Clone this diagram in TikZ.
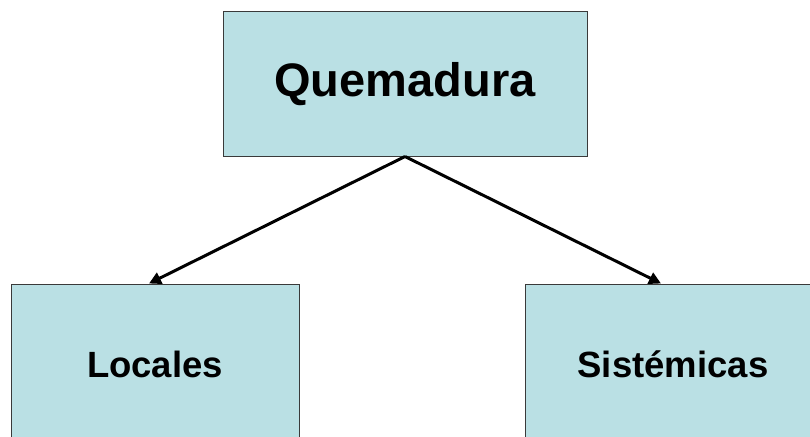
\documentclass[tikz,border=0pt]{standalone}
\usepackage{fontspec}
\setmainfont{Liberation Sans}
\usetikzlibrary{arrows.meta}
\definecolor{boxfill}{HTML}{BAE0E4}
\definecolor{boxline}{HTML}{3A3A3A}
\tikzset{
  box/.style={draw=boxline, line width=1pt, fill=boxfill, inner sep=0pt, font=\bfseries},
  conn/.style={line width=3pt, -{Stealth[length=12pt,width=12pt,inset=0pt]}, shorten >=0pt}
}
\begin{document}
\begin{tikzpicture}[x=1pt,y=-1pt]
\useasboundingbox (0,0) rectangle (810,436);
\clip (0,0) rectangle (810,436);
\node[box, minimum width=364pt, minimum height=144pt, font=\bfseries\fontsize{47}{50}\selectfont] (top) at (405,84) {Quemadura};
\node[box, minimum width=288pt, minimum height=160pt, font=\bfseries\fontsize{36.5}{40}\selectfont] (left) at (155,364) {Locales};
\node[box, minimum width=296pt, minimum height=160pt, font=\bfseries\fontsize{36.5}{40}\selectfont] (right) at (673,364) {Sistémicas};
\draw[conn] (top.south) -- ([xshift=-6pt]left.north);
\draw[conn] (top.south) -- ([xshift=-12pt]right.north);
\end{tikzpicture}
\end{document}
